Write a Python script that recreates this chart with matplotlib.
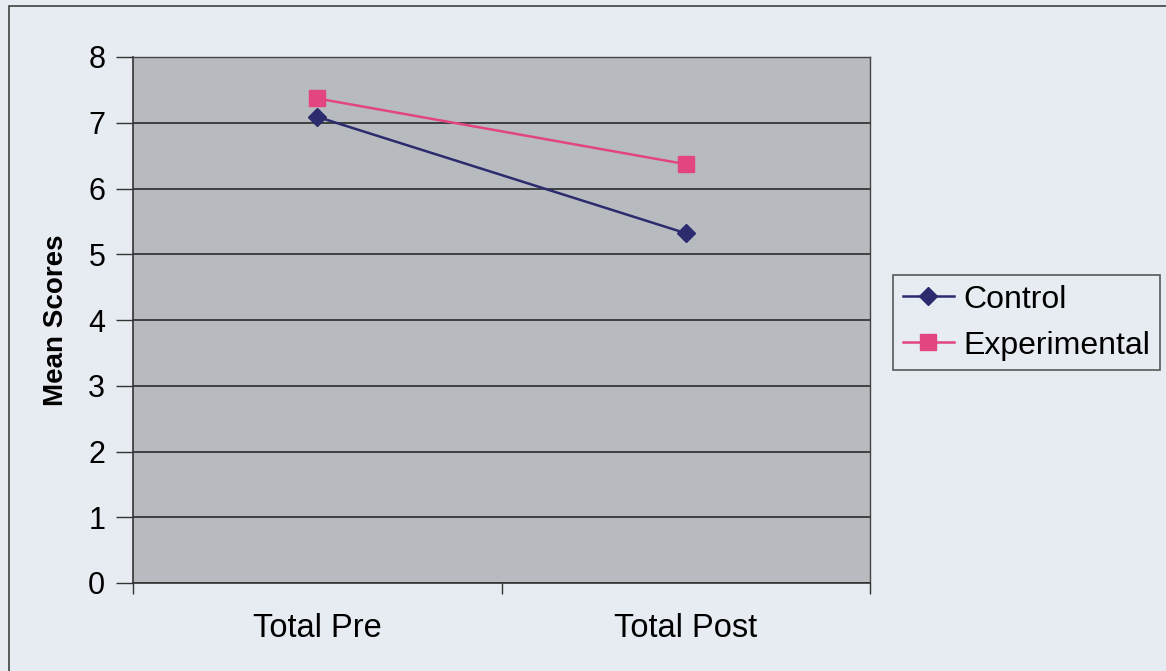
import matplotlib
matplotlib.use("Agg")
import matplotlib.pyplot as plt
from matplotlib.patches import Rectangle

categories = ["Total Pre", "Total Post"]
control = [7.09, 5.32]
experimental = [7.37, 6.37]
yticks = [0, 1, 2, 3, 4, 5, 6, 7, 8]

plt.rcParams['font.family'] = ['Liberation Sans', 'DejaVu Sans']

fig = plt.figure(figsize=(11.66, 6.71), dpi=100)
fig.patch.set_facecolor('#e7ecf2')
fig.patches.append(Rectangle((9/1166, -0.05), 1.2, 1 - 6/671 + 0.05, transform=fig.transFigure,
                             fill=False, edgecolor='#404040', linewidth=1.2))

ax = fig.add_axes([133/1166, 88/671, 737/1166, 526/671])
ax.set_facecolor('#b7bbbf')
x = list(range(len(categories)))
ax.plot(x, control, color='#2b2b6e', marker='D', markersize=9, linewidth=1.8, label='Control')
ax.plot(x, experimental, color='#e2457f', marker='s', markersize=11, linewidth=1.8, label='Experimental')

ax.set_xlim(-0.5, 1.5)
ax.set_ylim(0, 8)
ax.set_yticks(yticks)
ax.set_yticklabels([str(v) for v in yticks], fontsize=22)
ax.yaxis.grid(True, color='#2a2a2a', linewidth=1.2)
ax.set_axisbelow(True)

ax.set_xticks([-0.5, 0.5, 1.5])
ax.set_xticklabels([])
ax.tick_params(axis='x', length=8, width=1, color='#333333', direction='out')
ax.tick_params(axis='y', length=12, width=1, color='#333333', direction='out', pad=8)
for i, c in enumerate(categories):
    ax.text(i, -0.46, c, ha='center', va='top', fontsize=23.5, transform=ax.transData)

for s in ['left', 'bottom']:
    ax.spines[s].set_color('#333333')
    ax.spines[s].set_linewidth(1.2)
for s in ['top', 'right']:
    ax.spines[s].set_color('#444444')
    ax.spines[s].set_linewidth(1.0)

ax.set_ylabel('Mean Scores', fontsize=20, fontweight='bold', labelpad=14)

leg = fig.legend(loc='upper left', bbox_to_anchor=(893/1166, 1 - 275/671), fontsize=23,
                 frameon=True, fancybox=False, edgecolor='#333333', facecolor='#e7ecf2',
                 handlelength=1.6, borderpad=0.3, labelspacing=0.5, handletextpad=0.3,
                 borderaxespad=0)
leg.get_frame().set_linewidth(1.2)

fig.savefig('out.png', dpi=100, facecolor=fig.get_facecolor())
